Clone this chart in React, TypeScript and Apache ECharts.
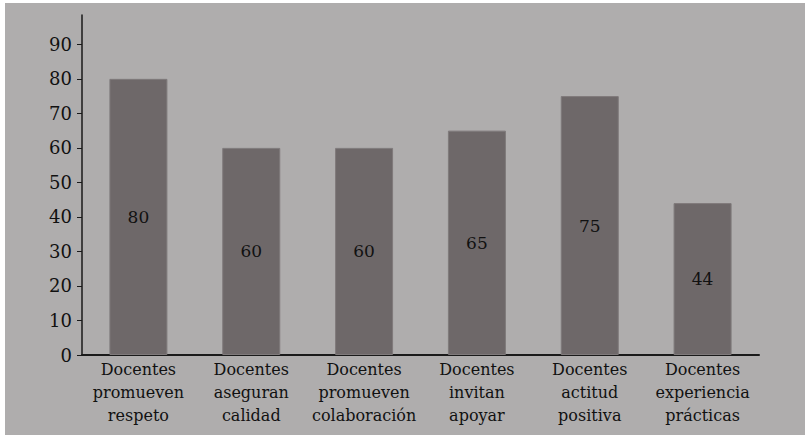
import React, { useEffect, useRef } from "react";
import * as echarts from "echarts";

const categories: string[] = [
  "Docentes\npromueven\nrespeto",
  "Docentes\naseguran\ncalidad",
  "Docentes\npromueven\ncolaboración",
  "Docentes\ninvitan\napoyar",
  "Docentes\nactitud\npositiva",
  "Docentes\nexperiencia\nprácticas",
];
const values: number[] = [80, 60, 60, 65, 75, 44];
const yTicks: number[] = [0, 10, 20, 30, 40, 50, 60, 70, 80, 90];

const FONT = "DejaVu Serif";

export default function App() {
  const ref = useRef<HTMLDivElement>(null);
  useEffect(() => {
    if (!ref.current) return;
    const chart = echarts.init(ref.current, null, { renderer: "svg" });
    chart.setOption({
      animation: false,
      backgroundColor: "#afadad",
      grid: { left: 77, right: 46, top: 12, bottom: 80 },
      xAxis: {
        type: "category",
        data: categories,
        axisLine: { show: true, lineStyle: { color: "#1a1a1a", width: 2 } },
        axisTick: { show: false },
        axisLabel: {
          color: "#111",
          fontFamily: FONT,
          fontSize: 16,
          lineHeight: 23,
          margin: 3,
          interval: 0,
        },
      },
      yAxis: {
        type: "value",
        min: 0,
        max: 98.5,
        interval: 10,
        splitLine: { show: false },
        axisLine: { show: true, lineStyle: { color: "#1a1a1a", width: 1.5 } },
        axisTick: {
          show: true,
          length: 5,
          lineStyle: { color: "#1a1a1a", width: 1 },
          customValues: yTicks,
        },
        axisLabel: {
          color: "#111",
          fontFamily: FONT,
          fontSize: 18,
          margin: 10,
          customValues: yTicks,
        },
      },
      series: [
        {
          type: "bar",
          data: values,
          barWidth: 58,
          itemStyle: {
            color: "#6e6869",
            borderColor: "#7f7a7b",
            borderWidth: 1,
          },
          label: {
            show: true,
            position: "inside",
            color: "#111",
            fontFamily: FONT,
            fontSize: 17,
          },
        },
      ],
    });
    return () => chart.dispose();
  }, []);
  return (
    <div
      style={{
        position: "fixed",
        left: 0,
        top: 0,
        width: 812,
        height: 440,
        background: "#ffffff",
      }}
    >
      <div
        ref={ref}
        style={{ position: "absolute", left: 5, top: 3, width: 800, height: 432 }}
      />
    </div>
  );
}
